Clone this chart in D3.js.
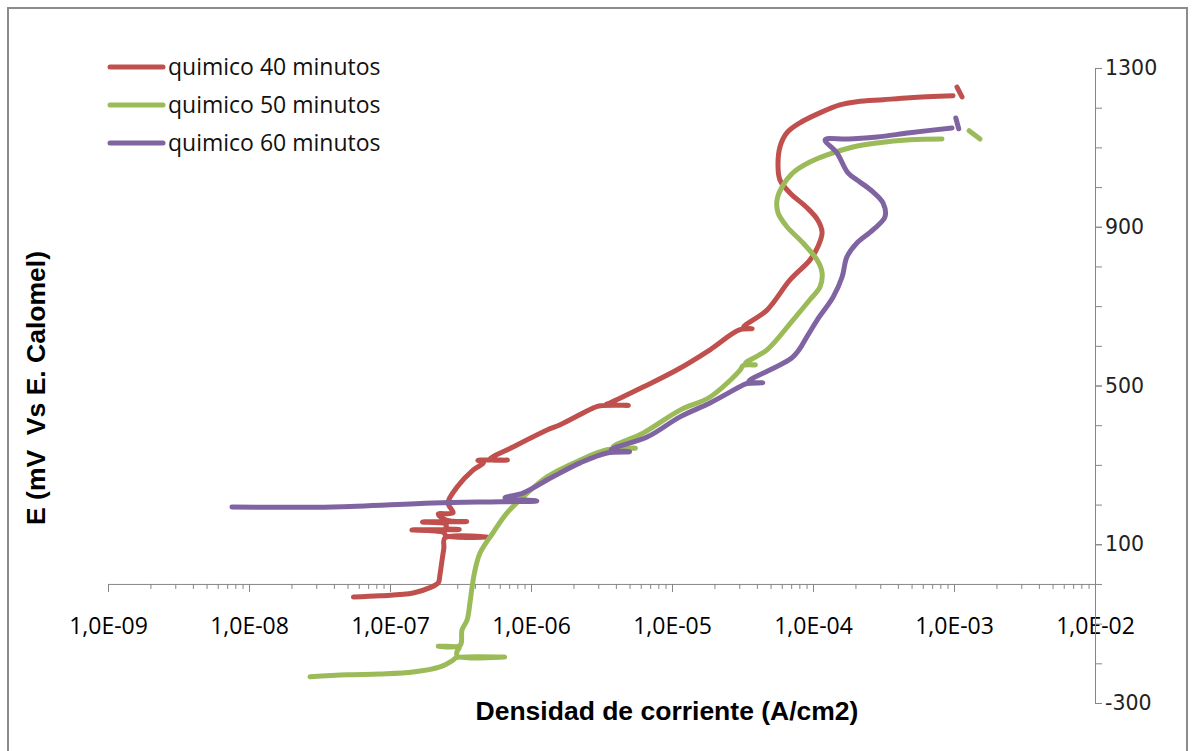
<!DOCTYPE html>
<html>
<head>
<meta charset="utf-8">
<script src="https://cdn.jsdelivr.net/npm/d3@7"></script>
<style>
  body { margin: 0; background: #fff; }
  svg { display: block; }
</style>
</head>
<body>
<div id="container"></div>
<script>
var width = 1192;
var height = 751;

// current density (A/cm2), potential (mV vs calomel)
var q40 = [
  [5.5e-8, -33], [8.5e-8, -30], [1.46e-7, -23], [1.9e-7, -10], [2.2e-7, 3], [2.26e-7, 23],
  [2.34e-7, 60], [2.41e-7, 91], [2.45e-7, 116], [4.9e-7, 118], [2.5e-7, 121], [2.4e-7, 130],
  [1.43e-7, 136], [3.1e-7, 137], [2.5e-7, 141], [2.5e-7, 150], [1.7e-7, 156], [3.5e-7, 157],
  [2.5e-7, 161], [2.2e-7, 176], [2.8e-7, 179], [2.58e-7, 204], [2.99e-7, 244], [3.88e-7, 287],
  [4.6e-7, 305], [4.2e-7, 311], [6.8e-7, 312], [5.1e-7, 314], [7.45e-7, 345], [1.3e-6, 388],
  [1.61e-6, 401], [2.75e-6, 443], [3.1e-6, 449], [4.9e-6, 450], [3.4e-6, 452], [3.63e-6, 456],
  [6.23e-6, 496], [1.08e-5, 539], [1.86e-5, 590], [3.0e-5, 640], [3.7e-5, 643], [3.2e-5, 646],
  [4.72e-5, 690], [6.87e-5, 766], [9.5e-5, 816], [1.08e-4, 849], [1.16e-4, 885], [1.08e-4, 917],
  [9.07e-5, 948], [6.87e-5, 985], [5.83e-5, 1018], [5.65e-5, 1051], [5.83e-5, 1101], [6.54e-5, 1137],
  [8.09e-5, 1162], [1.12e-4, 1187], [1.55e-4, 1207], [2.05e-4, 1215], [3.14e-4, 1220], [4.87e-4, 1225],
  [9.84e-4, 1230]
];
var q40Tail = [[1.05e-3, 1252], [1.14e-3, 1227]];

var q50 = [
  [2.71e-8, -234], [4.95e-8, -229], [8.5e-8, -227], [1.46e-7, -222], [2.26e-7, -209], [2.8e-7, -192],
  [2.95e-7, -186], [6.5e-7, -184], [3.0e-7, -182], [2.99e-7, -170], [3.1e-7, -160], [2.2e-7, -157],
  [3.14e-7, -155], [3.24e-7, -116], [3.52e-7, -91], [3.69e-7, -48], [3.82e-7, -8], [4.01e-7, 35],
  [4.35e-7, 78], [5.38e-7, 129], [6.76e-7, 179], [8.78e-7, 219], [1.3e-6, 270], [2.23e-6, 312],
  [3.46e-6, 338], [5.5e-6, 342], [3.82e-6, 345], [6.23e-6, 380], [1.14e-5, 438], [1.86e-5, 471],
  [3.04e-5, 539], [3.19e-5, 550], [3.9e-5, 552], [3.3e-5, 555], [4.72e-5, 590], [7.21e-5, 665],
  [9.5e-5, 716], [1.12e-4, 748], [1.16e-4, 784], [1.07e-4, 816], [8.5e-5, 859], [6.54e-5, 900],
  [5.65e-5, 935], [5.56e-5, 968], [6.03e-5, 1000], [7.21e-5, 1036], [9.5e-5, 1063], [1.26e-4, 1081],
  [1.92e-4, 1101], [2.84e-4, 1111], [4.87e-4, 1119], [8.22e-4, 1121]
];
var q50Tail = [[1.28e-3, 1142], [1.53e-3, 1121]];

var q60 = [
  [7.57e-9, 194], [3.94e-8, 194], [2.02e-7, 204], [6.03e-7, 207], [1.1e-6, 209], [6.54e-7, 217],
  [8.78e-7, 229], [1.43e-6, 270], [2.23e-6, 305], [3.46e-6, 330], [5.0e-6, 333], [3.7e-6, 338],
  [6.65e-6, 370], [1.14e-5, 421], [1.86e-5, 456], [3.19e-5, 501], [3.4e-5, 505], [4.4e-5, 507],
  [3.5e-5, 510], [7.21e-5, 572], [9.2e-5, 627], [1.07e-4, 665], [1.39e-4, 723], [1.61e-4, 774],
  [1.74e-4, 824], [2.05e-4, 859], [2.66e-4, 892], [3.24e-4, 925], [3.14e-4, 960], [2.66e-4, 988],
  [2.15e-4, 1013], [1.77e-4, 1036], [1.48e-4, 1086], [1.22e-4, 1119], [1.74e-4, 1121], [2.84e-4, 1126],
  [4.87e-4, 1137], [9.68e-4, 1149]
];
var q60Tail = [[1.03e-3, 1174], [1.08e-3, 1147]];

var seriesNames = ["quimico 40 minutos", "quimico 50 minutos", "quimico 60 minutos"];
var seriesColors = ["#C0504D", "#9BBB59", "#8064A2"];
var xTicks = [1e-9, 1e-8, 1e-7, 1e-6, 1e-5, 1e-4, 1e-3, 1e-2];
var yTicks = [-300, 100, 500, 900, 1300];

var series = [
  { name: seriesNames[0], color: seriesColors[0], parts: [q40, q40Tail] },
  { name: seriesNames[1], color: seriesColors[1], parts: [q50, q50Tail] },
  { name: seriesNames[2], color: seriesColors[2], parts: [q60, q60Tail] }
];

const SVG = d3.select("#container")
              .append("svg")
              .attr("width", width)
              .attr("height", height);

SVG.append("rect")
   .attr("x", 8).attr("y", 8)
   .attr("width", 1179).attr("height", 760)
   .attr("fill", "none")
   .attr("stroke", "#8c8c8c")
   .attr("stroke-width", 2);

const x = d3.scaleLog().domain([1e-9, 1e-2]).range([108, 1095]);
const y = d3.scaleLinear().domain([-300, 1300]).range([703, 68]);

var minorX = [];
xTicks.slice(0, -1).forEach(function(d) {
  for (var k = 2; k <= 9; k++) minorX.push(d * k);
});

// x axis crossing at E = 0
const xAxisG = SVG.append("g").attr("transform", `translate(0,${y(0)})`);
xAxisG.append("g")
      .call(d3.axisBottom(x).tickValues(minorX).tickSize(5).tickFormat(""))
      .call(g => g.select(".domain").remove());
xAxisG.append("g")
      .call(d3.axisBottom(x).tickValues(xTicks).tickSizeOuter(0).tickSize(8)
              .tickFormat(d => "1,0E-" + String(-Math.round(Math.log10(d))).padStart(2, "0")))
      .call(g => g.selectAll("text")
                  .attr("y", 34)
                  .attr("dy", "0.71em")
                  .style("font-family", "'Open Sans'")
                  .style("font-size", "23px")
                  .attr("fill", "#000"));
xAxisG.selectAll("line, path").attr("stroke", "#868686");

// y axis on the right
const yAxisG = SVG.append("g").attr("transform", `translate(${x(1e-2)},0)`);
yAxisG.append("g")
      .call(d3.axisRight(y).tickValues(d3.range(-300, 1301, 100)).tickSize(7).tickFormat(""));
yAxisG.append("g")
      .call(d3.axisRight(y).tickValues(yTicks).tickSize(7).tickSizeOuter(7).tickFormat(d => String(d)))
      .call(g => g.selectAll("text")
                  .attr("x", 10)
                  .style("font-family", "'DejaVu Sans'")
                  .style("font-size", "20.5px")
                  .attr("fill", "#222"));
yAxisG.selectAll("line, path").attr("stroke", "#868686");

const line = d3.line()
               .curve(d3.curveCatmullRom.alpha(0.5))
               .x(d => x(d[0]))
               .y(d => y(d[1]));

series.forEach(function(s) {
  s.parts.forEach(function(p) {
    SVG.append("path")
       .datum(p)
       .attr("d", line)
       .attr("fill", "none")
       .attr("stroke", s.color)
       .attr("stroke-width", 5)
       .attr("stroke-linecap", "round")
       .attr("stroke-linejoin", "round");
  });
});

// legend
const LEGEND = SVG.selectAll(".legend-item")
                  .data(series)
                  .enter()
                  .append("g")
                  .attr("class", "legend-item")
                  .attr("transform", (d, i) => `translate(110,${67 + i * 38})`);
LEGEND.append("line")
      .attr("x1", 0).attr("x2", 53)
      .attr("stroke", d => d.color)
      .attr("stroke-width", 5)
      .attr("stroke-linecap", "round");
LEGEND.append("text")
      .attr("x", 58)
      .attr("y", 8)
      .text(d => d.name)
      .style("font-family", "'Open Sans'")
      .style("font-size", "23px")
      .attr("fill", "#111");

SVG.append("text")
   .attr("x", 667)
   .attr("y", 720)
   .attr("text-anchor", "middle")
   .text("Densidad de corriente (A/cm2)")
   .style("font-family", "'Liberation Sans', Arial")
   .style("font-weight", "bold")
   .style("font-size", "26.5px");

SVG.append("text")
   .attr("transform", "translate(45,388) rotate(-90)")
   .attr("text-anchor", "middle")
   .text("E (mV  Vs E. Calomel)")
   .style("white-space", "pre")
   .style("font-family", "'Liberation Sans', Arial")
   .style("font-weight", "bold")
   .style("font-size", "26.5px");
</script>
</body>
</html>
